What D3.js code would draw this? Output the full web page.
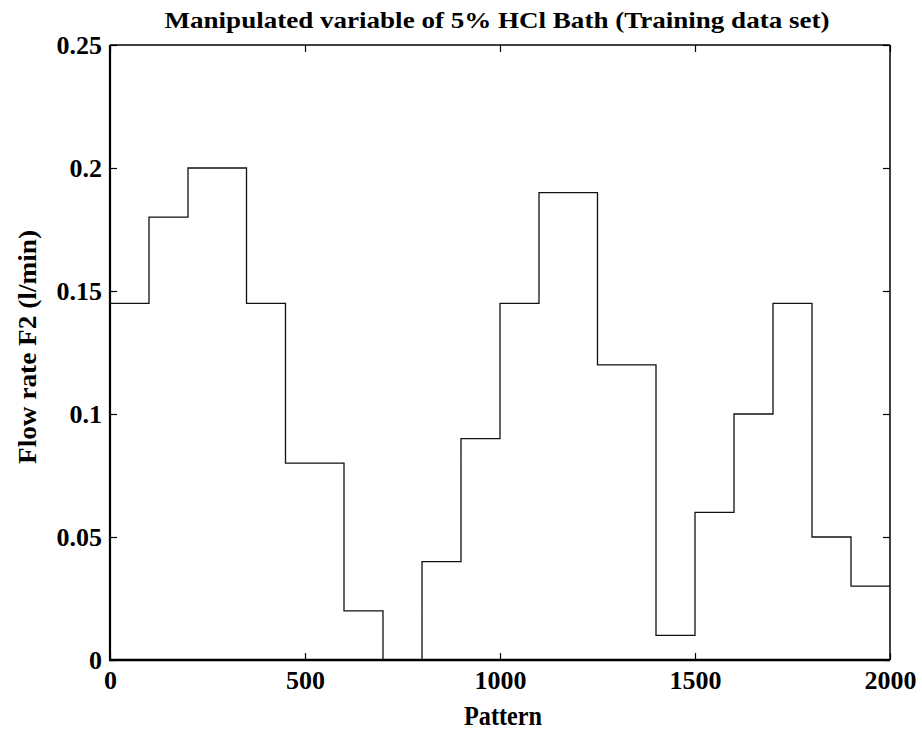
<!DOCTYPE html>
<html>
<head>
<meta charset="utf-8">
<script src="https://cdn.jsdelivr.net/npm/d3@7"></script>
<style>
  body { margin: 0; background: #fff; }
  svg text { font-family: "Liberation Serif", "Times New Roman", serif; font-weight: bold; fill: #000; }
</style>
</head>
<body>
<svg id="chart" width="922" height="731"></svg>
<script>
// step start points (Pattern) and flow rate held from each start
var stepStart = [0, 100, 200, 350, 450, 600, 700, 800, 900, 1000, 1100, 1250, 1400, 1500, 1600, 1700, 1800, 1900];
var stepValue = [0.145, 0.18, 0.2, 0.145, 0.08, 0.02, 0, 0.04, 0.09, 0.145, 0.19, 0.12, 0.01, 0.06, 0.1, 0.145, 0.05, 0.03];
var patternEnd = 2000;

var xTicks = [0, 500, 1000, 1500, 2000];
var yTicks = [0, 0.05, 0.1, 0.15, 0.2, 0.25];

var titleText = 'Manipulated variable of 5% HCl Bath (Training data set)';
var xLabel = 'Pattern';
var yLabel = 'Flow rate F2 (l/min)';

var margin = {top: 45, right: 32, bottom: 71, left: 110};
var width = 922 - margin.left - margin.right;
var height = 731 - margin.top - margin.bottom;

var svg = d3.select('#chart');
var g = svg.append('g')
    .attr('transform', 'translate(' + margin.left + ',' + margin.top + ')');

var x = d3.scaleLinear().domain([0, 2000]).range([0, width]);
var y = d3.scaleLinear().domain([0, 0.25]).range([height, 0]);

// build points for the step line
var pts = stepStart.map(function(s, i) { return [s, stepValue[i]]; });
pts.push([patternEnd, stepValue[stepValue.length - 1]]);

var line = d3.line()
    .x(function(d) { return x(d[0]); })
    .y(function(d) { return y(d[1]); })
    .curve(d3.curveStepAfter);

g.append('path')
    .datum(pts)
    .attr('d', line)
    .attr('fill', 'none')
    .attr('stroke', '#111')
    .attr('stroke-width', 1.3);

// axes, ticks point inwards
var fmtY = function(d) { return d === 0 ? '0' : String(+d.toFixed(2)); };

var axBottom = g.append('g')
    .attr('transform', 'translate(0,' + height + ')')
    .call(d3.axisBottom(x).tickValues(xTicks).tickSize(-7).tickPadding(11).tickFormat(d3.format('d')));
var axLeft = g.append('g')
    .call(d3.axisLeft(y).tickValues(yTicks).tickSize(-7).tickPadding(8).tickFormat(fmtY));
var axTop = g.append('g')
    .call(d3.axisTop(x).tickValues(xTicks).tickSize(-7).tickFormat(''));
var axRight = g.append('g')
    .attr('transform', 'translate(' + width + ',0)')
    .call(d3.axisRight(y).tickValues(yTicks).tickSize(-7).tickFormat(''));

[axBottom, axLeft, axTop, axRight].forEach(function(a) {
  a.attr('font-family', null).attr('font-size', null);
  a.select('.domain').remove();
  a.selectAll('.tick line').attr('stroke', '#000').attr('stroke-width', 1.2);
});
axBottom.selectAll('.tick text').style('font-size', '26px');
axLeft.selectAll('.tick text').style('font-size', '26px');

// frame
g.append('line').attr('x1', 0).attr('x2', width).attr('y1', 0).attr('y2', 0)
    .attr('stroke', '#000').attr('stroke-width', 1.5);
g.append('line').attr('x1', width).attr('x2', width).attr('y1', 0).attr('y2', height)
    .attr('stroke', '#000').attr('stroke-width', 1.5);
g.append('line').attr('x1', 0).attr('x2', 0).attr('y1', 0).attr('y2', height + 1)
    .attr('stroke', '#000').attr('stroke-width', 2.2);
g.append('line').attr('x1', -1).attr('x2', width).attr('y1', height).attr('y2', height)
    .attr('stroke', '#000').attr('stroke-width', 2.5);

// title and labels
svg.append('text')
    .attr('x', 497)
    .attr('y', 28)
    .attr('text-anchor', 'middle')
    .attr('textLength', 665)
    .attr('lengthAdjust', 'spacingAndGlyphs')
    .style('font-size', '24px')
    .text(titleText);

svg.append('text')
    .attr('x', 503)
    .attr('y', 725)
    .attr('text-anchor', 'middle')
    .attr('textLength', 78)
    .attr('lengthAdjust', 'spacingAndGlyphs')
    .style('font-size', '27px')
    .text(xLabel);

svg.append('text')
    .attr('transform', 'translate(36,347) rotate(-90)')
    .attr('text-anchor', 'middle')
    .attr('textLength', 234)
    .attr('lengthAdjust', 'spacingAndGlyphs')
    .style('font-size', '26px')
    .text(yLabel);
</script>
</body>
</html>
